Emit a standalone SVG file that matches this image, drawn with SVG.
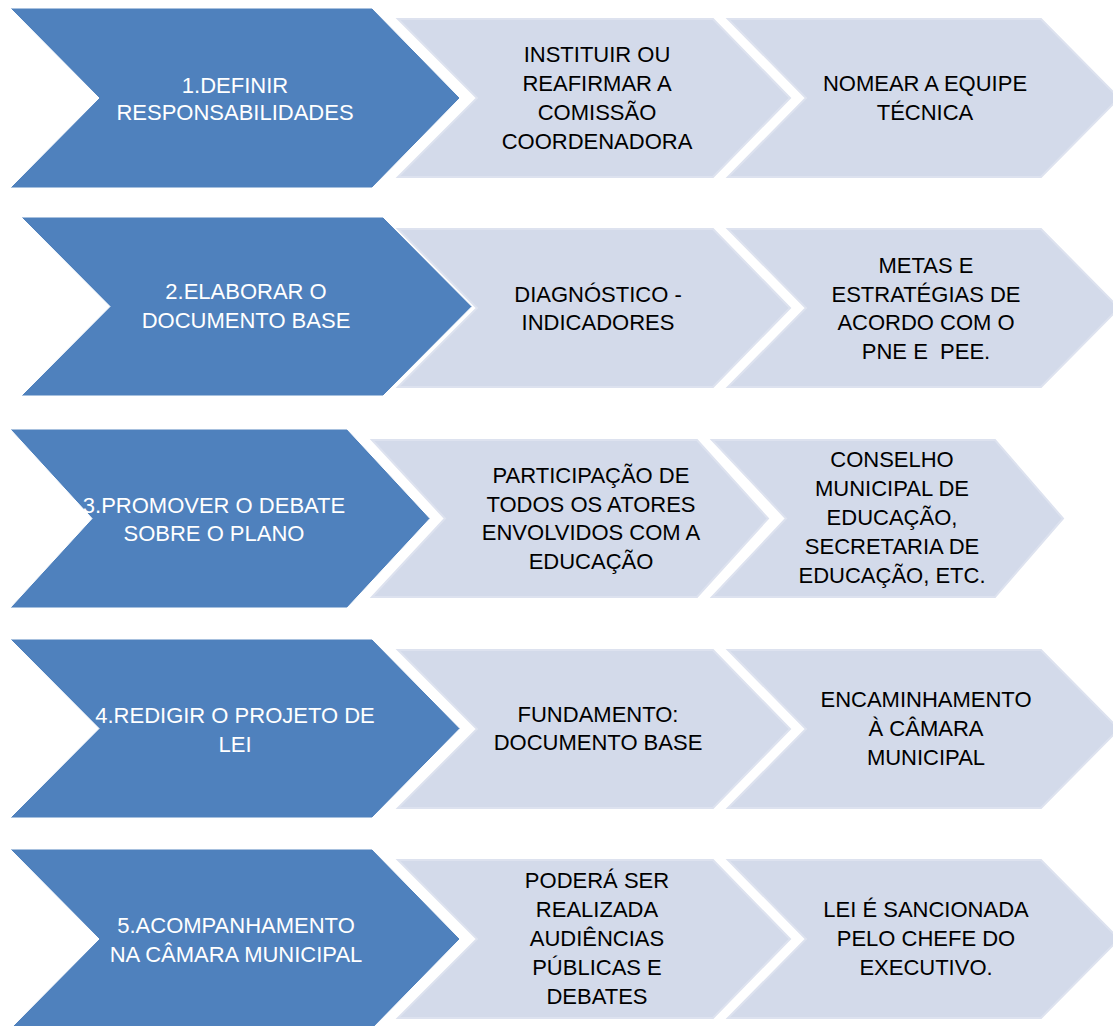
<svg xmlns="http://www.w3.org/2000/svg" width="1113" height="1026" viewBox="0 0 1113 1026">
<style>
.big{fill:#4F81BD;stroke:#FFFFFF;stroke-width:1}
.lt{fill:#D3DAEA;stroke:#DDE2EF;stroke-width:2}
text{font-family:"Liberation Sans",Arial,sans-serif;font-size:22px;text-anchor:middle}
.wt{fill:#FFFFFF}
.bk{fill:#000000}
</style>
<rect x="0" y="0" width="1113" height="1026" fill="#FFFFFF"/>
<g id="connectors"/>
<!-- Row 1 -->
<g id="r1-main">
<polygon class="big" points="10,8 372,8 460,98 372,188 10,188 99,98"/>
<text class="wt"><tspan x="235" y="93">1.DEFINIR</tspan><tspan x="235" y="120">RESPONSABILIDADES</tspan></text>
</g>
<g id="r1-step1">
<polygon class="lt" points="398,19 713,19 790,98 713,177 398,177 477,98"/>
<text class="bk"><tspan x="597" y="62">INSTITUIR OU</tspan><tspan x="597" y="91">REAFIRMAR A</tspan><tspan x="597" y="120">COMISSÃO</tspan><tspan x="597" y="149">COORDENADORA</tspan></text>
</g>
<g id="r1-step2">
<polygon class="lt" points="728,19 1041,19 1119,98 1041,177 728,177 806,98"/>
<text class="bk"><tspan x="925" y="91">NOMEAR A EQUIPE</tspan><tspan x="925" y="120">TÉCNICA</tspan></text>
</g>
<!-- Row 2 -->
<g id="r2-main">
<polygon class="big" points="21,217 383,217 472,306.5 383,396 21,396 110,306.5"/>
<text class="wt"><tspan x="246" y="299">2.ELABORAR O</tspan><tspan x="246" y="328">DOCUMENTO BASE</tspan></text>
</g>
<g id="r2-step1">
<polygon class="lt" points="398,229 713,229 790,308 713,387 398,387 477,308"/>
<text class="bk"><tspan x="598" y="302">DIAGNÓSTICO -</tspan><tspan x="598" y="330">INDICADORES</tspan></text>
</g>
<g id="r2-step2">
<polygon class="lt" points="728,229 1041,229 1119,308 1041,387 728,387 806,308"/>
<text class="bk" xml:space="preserve"><tspan x="926" y="273">METAS E</tspan><tspan x="926" y="302">ESTRATÉGIAS DE</tspan><tspan x="926" y="330">ACORDO COM O</tspan><tspan x="926" y="359">PNE E  PEE.</tspan></text>
</g>
<!-- Row 3 -->
<g id="r3-main">
<polygon class="big" points="10,429 347,429 430,518.5 347,608 10,608 92,518.5"/>
<text class="wt"><tspan x="214" y="513">3.PROMOVER O DEBATE</tspan><tspan x="214" y="541">SOBRE O PLANO</tspan></text>
</g>
<g id="r3-step1">
<polygon class="lt" points="372,440 697,440 768,518.5 697,597 372,597 445,518.5"/>
<text class="bk"><tspan x="591" y="483">PARTICIPAÇÃO DE</tspan><tspan x="591" y="512">TODOS OS ATORES</tspan><tspan x="591" y="540">ENVOLVIDOS COM A</tspan><tspan x="591" y="569">EDUCAÇÃO</tspan></text>
</g>
<g id="r3-step2">
<polygon class="lt" points="712,440 995,440 1063,518.5 995,597 712,597 786,518.5"/>
<text class="bk"><tspan x="892" y="467">CONSELHO</tspan><tspan x="892" y="496">MUNICIPAL DE</tspan><tspan x="892" y="525">EDUCAÇÃO,</tspan><tspan x="892" y="554">SECRETARIA DE</tspan><tspan x="892" y="583">EDUCAÇÃO, ETC.</tspan></text>
</g>
<!-- Row 4 -->
<g id="r4-main">
<polygon class="big" points="10,639 372,639 460,728.5 372,818 10,818 99,728.5"/>
<text class="wt"><tspan x="235" y="723">4.REDIGIR O PROJETO DE</tspan><tspan x="235" y="752">LEI</tspan></text>
</g>
<g id="r4-step1">
<polygon class="lt" points="398,650 713,650 790,729 713,808 398,808 477,729"/>
<text class="bk"><tspan x="598" y="722">FUNDAMENTO:</tspan><tspan x="598" y="750">DOCUMENTO BASE</tspan></text>
</g>
<g id="r4-step2">
<polygon class="lt" points="728,650 1041,650 1119,729 1041,808 728,808 806,729"/>
<text class="bk"><tspan x="926" y="707">ENCAMINHAMENTO</tspan><tspan x="926" y="736">À CÂMARA</tspan><tspan x="926" y="765">MUNICIPAL</tspan></text>
</g>
<!-- Row 5 -->
<g id="r5-main">
<polygon class="big" points="10,849 372,849 460,939 372,1029 10,1029 99,939"/>
<text class="wt"><tspan x="236" y="933">5.ACOMPANHAMENTO</tspan><tspan x="236" y="962">NA CÂMARA MUNICIPAL</tspan></text>
</g>
<g id="r5-step1">
<polygon class="lt" points="398,860 713,860 790,939 713,1018 398,1018 477,939"/>
<text class="bk"><tspan x="597" y="888">PODERÁ SER</tspan><tspan x="597" y="917">REALIZADA</tspan><tspan x="597" y="946">AUDIÊNCIAS</tspan><tspan x="597" y="975">PÚBLICAS E</tspan><tspan x="597" y="1004">DEBATES</tspan></text>
</g>
<g id="r5-step2">
<polygon class="lt" points="728,860 1041,860 1119,939 1041,1018 728,1018 806,939"/>
<text class="bk"><tspan x="926" y="917">LEI É SANCIONADA</tspan><tspan x="926" y="946">PELO CHEFE DO</tspan><tspan x="926" y="975">EXECUTIVO.</tspan></text>
</g>
</svg>
